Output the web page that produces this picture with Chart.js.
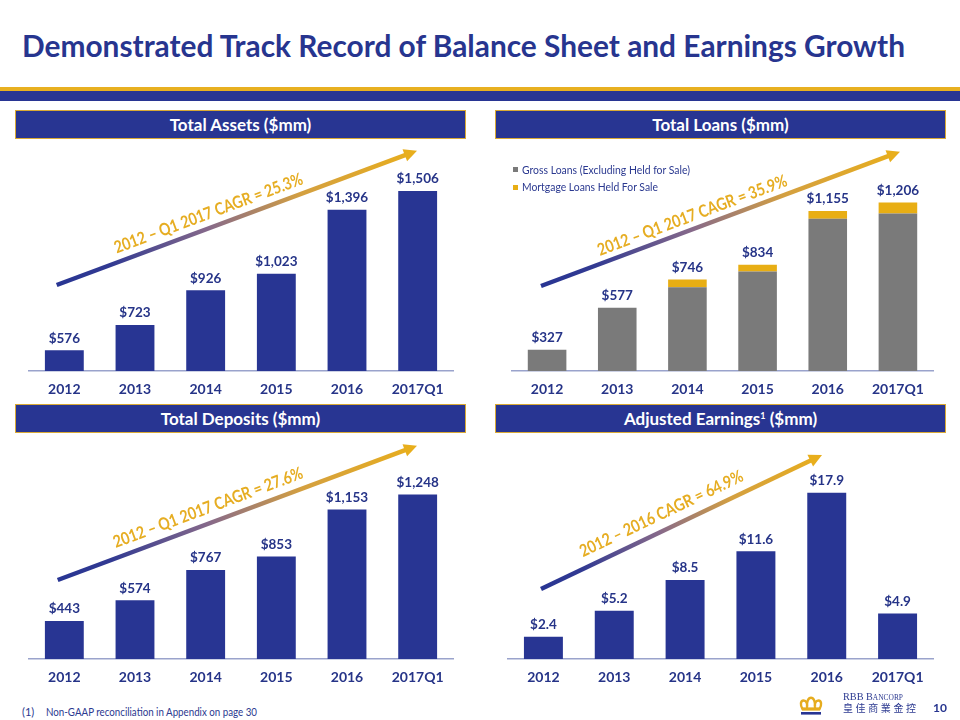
<!DOCTYPE html>
<html><head><meta charset="utf-8">
<script src="https://cdn.jsdelivr.net/npm/chart.js@4.4.1/dist/chart.umd.min.js"></script>
<style>
body{margin:0;width:960px;height:720px;background:#fff;position:relative;overflow:hidden;font-family:Lato,"Open Sans",sans-serif;}
.abs{position:absolute;}
#title{left:22px;top:25px;font-size:31px;font-weight:700;color:#27358f;white-space:nowrap;transform-origin:left center;line-height:40px;}
.gold{left:0;top:87px;width:960px;height:4px;background:#e8b020;}
.navy{left:0;top:91px;width:960px;height:10px;background:#283593;}
.hdr{box-sizing:border-box;width:451px;height:29px;background:#283592;border:1px solid #d9a935;color:#fff;font-weight:700;font-size:17px;line-height:27px;text-align:center;}
canvas{position:absolute;}
.leg{font-size:11.5px;color:#2b3990;white-space:nowrap;transform-origin:left center;line-height:14px;}
.sq{width:5px;height:5px;}
#foot1,#foot2{font-size:11px;color:#2b3990;white-space:nowrap;transform-origin:left center;line-height:14px;}
#rbb{font-family:"Liberation Serif","DejaVu Serif",serif;font-variant:small-caps;font-size:11px;color:#2b3990;white-space:nowrap;transform-origin:left center;line-height:12px;}
#cn{font-family:"Noto Sans CJK TC",sans-serif;font-size:10px;color:#2b3990;white-space:nowrap;letter-spacing:2.6px;line-height:12px;}
#pg{font-weight:700;font-size:12px;color:#27358f;line-height:14px;}
</style></head>
<body>
<div id="title" class="abs">Demonstrated Track Record of Balance Sheet and Earnings Growth</div>
<div class="abs gold"></div><div class="abs navy"></div>
<div class="abs hdr" style="left:15px;top:110px;">Total Assets ($mm)</div>
<div class="abs hdr" style="left:495px;top:110px;">Total Loans ($mm)</div>
<div class="abs hdr" style="left:15px;top:404px;">Total Deposits ($mm)</div>
<div class="abs hdr" style="left:495px;top:404px;">Adjusted Earnings<sup style="font-size:9px;vertical-align:6px;line-height:0">1</sup> ($mm)</div>

<canvas id="c1" width="480" height="264" style="left:0;top:140px;"></canvas>
<canvas id="c2" width="480" height="264" style="left:480px;top:140px;"></canvas>
<canvas id="c3" width="480" height="259" style="left:0;top:433px;"></canvas>
<canvas id="c4" width="480" height="259" style="left:480px;top:433px;"></canvas>

<div class="abs sq" style="left:513px;top:167px;background:#7a7a7a;"></div>
<div id="leg1" class="abs leg" style="left:522px;top:163px;">Gross Loans (Excluding Held for Sale)</div>
<div class="abs sq" style="left:513px;top:185px;background:#e8ae14;"></div>
<div id="leg2" class="abs leg" style="left:522px;top:180px;">Mortgage Loans Held For Sale</div>

<div id="foot1" class="abs" style="left:22px;top:705px;">(1)</div>
<div id="foot2" class="abs" style="left:46px;top:705px;">Non-GAAP reconciliation in Appendix on page 30</div>

<svg class="abs" style="left:799px;top:696px;" width="24" height="19" viewBox="0 0 24 19">
  <path d="M3.5 13 C1 9,1.5 4.5,4.5 4.5 C7.5 4.5,8.5 8,8 11 C7.5 5.5,9.5 1.8,12 1.8 C14.5 1.8,16.5 5.5,16 11 C15.5 8,16.5 4.5,19.5 4.5 C22.5 4.5,23 9,20.5 13 Z" fill="#fff" stroke="#e6ac1e" stroke-width="2.4" stroke-linejoin="round"/>
  <rect x="3" y="11.5" width="18" height="3" fill="#e6ac1e"/>
  <rect x="2" y="16" width="20" height="2.6" fill="#283593"/>
</svg>
<div id="rbb" class="abs" style="left:843px;top:690px;">RBB Bancorp</div>
<div id="cn" class="abs" style="left:843px;top:702px;">皇佳商業金控</div>
<div id="pg" class="abs" style="left:933px;top:701px;">10</div>

<script>
// ---- data ----
const categories = ['2012','2013','2014','2015','2016','2017Q1'];
const totalAssets = [576, 723, 926, 1023, 1396, 1506];
const grossLoans = [327, 577, 700, 794, 1109, 1140];
const mortgageHFS = [0, 0, 46, 40, 46, 66];
const totalLoansLabels = ['$327','$577','$746','$834','$1,155','$1,206'];
const totalDeposits = [443, 574, 767, 853, 1153, 1248];
const adjEarnings = [2.4, 5.2, 8.5, 11.6, 17.9, 4.9];
const cagrAssets = '2012 \u2013 Q1 2017 CAGR = 25.3%';
const cagrLoans = '2012 \u2013 Q1 2017 CAGR = 35.9%';
const cagrDeposits = '2012 \u2013 Q1 2017 CAGR = 27.6%';
const cagrEarnings = '2012 \u2013 2016 CAGR = 64.9%';

const NAVY = '#283593', LABEL = '#263488', GOLD = '#e8ae14', GRAY = '#7a7a7a';
const FONT = 'Lato, "Open Sans", sans-serif';

const money0 = v => '$' + v.toLocaleString('en-US');
const money1 = v => '$' + v.toFixed(1);

const valueLabels = {
  id: 'valueLabels',
  afterDatasetsDraw(chart, args, o) {
    if (!o || !o.labels) return;
    const ctx = chart.ctx;
    const metas = chart.getSortedVisibleDatasetMetas();
    const top = metas[metas.length - 1];
    ctx.save();
    ctx.fillStyle = LABEL;
    ctx.font = 'bold 13.5px ' + FONT;
    ctx.textAlign = 'center';
    ctx.textBaseline = 'middle';
    top.data.forEach((el, i) => { ctx.fillText(o.labels[i], el.x, el.y - 12); });
    ctx.restore();
  }
};

const cagrArrow = {
  id: 'cagrArrow',
  afterDraw(chart, args, o) {
    if (!o || o.x1 === undefined) return;
    const ctx = chart.ctx;
    const {x1, y1, x2, y2, t, d, len, text} = o;
    const ang = Math.atan2(y2 - y1, x2 - x1);
    const head = 13, hw = 6.5;
    const bx = x2 - head * Math.cos(ang), by = y2 - head * Math.sin(ang);
    ctx.save();
    const g = ctx.createLinearGradient(x1, y1, x2, y2);
    g.addColorStop(0, '#283593');
    g.addColorStop(0.15, '#323a92');
    g.addColorStop(0.42, '#86698a');
    g.addColorStop(0.68, '#d4a040');
    g.addColorStop(1, '#e8ae1c');
    ctx.strokeStyle = g;
    ctx.lineWidth = 4.5;
    ctx.beginPath(); ctx.moveTo(x1, y1); ctx.lineTo(bx + Math.cos(ang), by + Math.sin(ang)); ctx.stroke();
    ctx.fillStyle = '#e8ae1c';
    ctx.beginPath();
    ctx.moveTo(x2, y2);
    ctx.lineTo(bx + hw * Math.sin(ang), by - hw * Math.cos(ang));
    ctx.lineTo(bx - hw * Math.sin(ang), by + hw * Math.cos(ang));
    ctx.closePath(); ctx.fill();
    const cx = x1 + (x2 - x1) * t + d * Math.sin(ang);
    const cy = y1 + (y2 - y1) * t - d * Math.cos(ang);
    ctx.translate(cx, cy);
    ctx.rotate(ang);
    ctx.font = 'bold 17px ' + FONT;
    const w = ctx.measureText(text).width;
    ctx.scale(len / w, 1);
    ctx.fillStyle = '#e6ad22';
    ctx.textAlign = 'center';
    ctx.textBaseline = 'middle';
    ctx.fillText(text, 0, 0);
    ctx.restore();
  }
};

function makeChart(id, datasets, yMin, yMax, padL, padR, labels, arrow, stacked) {
  return new Chart(document.getElementById(id), {
    type: 'bar',
    data: { labels: categories, datasets },
    options: {
      responsive: false, animation: false, devicePixelRatio: 1,
      layout: { padding: { left: padL, right: padR, top: 20, bottom: 0 } },
      plugins: { legend: { display: false }, tooltip: { enabled: false },
                 valueLabels: { labels }, cagrArrow: arrow },
      scales: {
        x: {
          stacked: !!stacked,
          grid: { display: false, drawTicks: false },
          border: { display: true, color: '#9aa3cc', width: 1.5 },
          ticks: { color: LABEL, padding: 10, font: { family: FONT, size: 14, weight: 'bold' } },
          afterFit(s) { s.height = 33; }
        },
        y: { display: false, stacked: !!stacked, min: yMin, max: yMax }
      }
    },
    plugins: [valueLabels, cagrArrow]
  });
}

const barOpts = { barPercentage: 0.55, categoryPercentage: 1, borderWidth: 0 };

makeChart('c1', [{ data: totalAssets, backgroundColor: NAVY, ...barOpts }],
  455, 1687, 29, 27, totalAssets.map(money0),
  { x1: 56.7, y1: 145, x2: 417, y2: 10.7, t: 0.435, d: 14, len: 200, text: cagrAssets });

makeChart('c2', [
    { label: 'Gross Loans (Excluding Held for Sale)', data: grossLoans, backgroundColor: GRAY, ...barOpts },
    { label: 'Mortgage Loans Held For Sale', data: mortgageHFS, backgroundColor: GOLD, ...barOpts }
  ],
  200, 1460, 32, 27, totalLoansLabels,
  { x1: 61, y1: 146, x2: 420, y2: 11.7, t: 0.434, d: 13, len: 201, text: cagrLoans }, true);

makeChart('c3', [{ data: totalDeposits, backgroundColor: NAVY, ...barOpts }],
  200, 1513, 29, 27, totalDeposits.map(money0),
  { x1: 57.7, y1: 147, x2: 417, y2: 12.7, t: 0.433, d: 15, len: 201, text: cagrDeposits });

makeChart('c4', [{ data: adjEarnings, backgroundColor: NAVY, ...barOpts }],
  0, 22.17, 28, 27, adjEarnings.map(money1),
  { x1: 61, y1: 156, x2: 342, y2: 22, t: 0.453, d: 16, len: 179, text: cagrEarnings });

function fit(id, w) {
  const e = document.getElementById(id);
  const r = e.getBoundingClientRect().width;
  e.style.transform = 'scaleX(' + (w / r) + ')';
}
fit('title', 883);
fit('leg1', 168);
fit('leg2', 136);
fit('foot2', 211);
fit('rbb', 60);
</script>
</body></html>
